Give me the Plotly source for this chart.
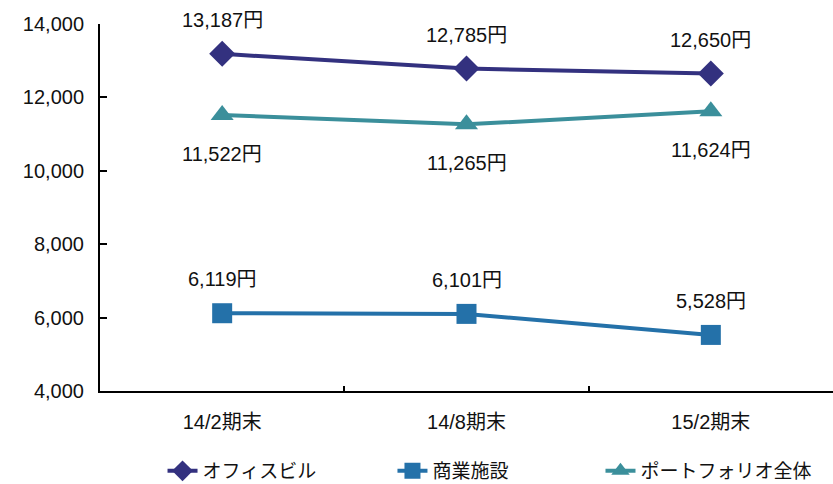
import plotly.graph_objects as go

categories = ["14/2期末", "14/8期末", "15/2期末"]
office = [13187, 12785, 12650]
commercial = [6119, 6101, 5528]
portfolio = [11522, 11265, 11624]
series_names = ["オフィスビル", "商業施設", "ポートフォリオ全体"]
colors = ["#33317F", "#2471A9", "#3B8F9B"]
symbols = ["diamond", "square", "triangle-up"]
label_shift = [34, 34, -39]
legend_ids = ["legend", "legend2", "legend3"]
legend_x = [0.0853, 0.399, 0.6828]

FONT = "Liberation Sans, Arial, Noto Sans CJK JP, sans-serif"

fig = go.Figure()
annotations = []
for name, vals, col, sym, sh, lg in zip(series_names, [office, commercial, portfolio], colors, symbols, label_shift, legend_ids):
    fig.add_trace(go.Scatter(
        x=categories, y=vals, name=name, mode="lines+markers",
        line=dict(color=col, width=4),
        marker=dict(symbol=sym, size=20, color=col),
        legend=lg,
    ))
    for c, v in zip(categories, vals):
        annotations.append(dict(x=c, y=v, xref="x", yref="y", text=f"{v:,}円",
                                showarrow=False, yshift=sh,
                                font=dict(size=20, color="#111111", family=FONT)))

legend_common = dict(orientation="h", xanchor="left", y=-0.218, yanchor="middle",
                     font=dict(size=19), itemwidth=30, bgcolor="rgba(0,0,0,0)")
fig.update_layout(
    width=833, height=484,
    margin=dict(l=100, r=0, t=24, b=93, autoexpand=False),
    paper_bgcolor="white", plot_bgcolor="white",
    font=dict(family=FONT, size=20, color="#111111"),
    annotations=annotations,
    showlegend=True,
    legend=dict(x=legend_x[0], **legend_common),
    legend2=dict(x=legend_x[1], **legend_common),
    legend3=dict(x=legend_x[2], **legend_common),
)
fig.update_xaxes(
    type="category", range=[-0.5, 2.5], showline=True, linecolor="black", linewidth=2,
    ticks="inside", ticklen=5, tickwidth=2, tickcolor="black", tickson="boundaries",
    showgrid=False, zeroline=False, ticklabelstandoff=12,
)
fig.update_yaxes(
    range=[4000, 14000], dtick=2000, tickformat=",", showline=True, linecolor="black",
    linewidth=2, ticks="inside", ticklen=7, tickwidth=2, tickcolor="black",
    showgrid=False, zeroline=False, ticklabelstandoff=10,
)
fig.write_html("out.html")
